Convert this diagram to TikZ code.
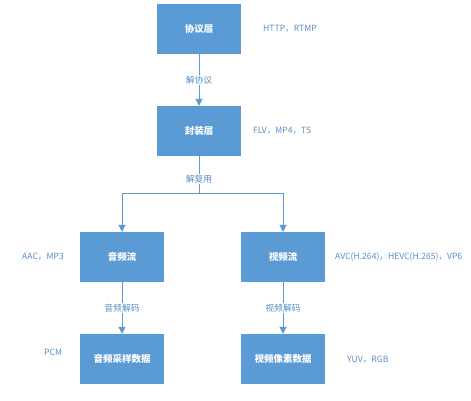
\documentclass[tikz,border=0pt]{standalone}
\usepackage{fontspec}
\setmainfont{Noto Sans CJK SC}
\usetikzlibrary{arrows.meta}
\definecolor{boxblue}{HTML}{5B9BD5}
\definecolor{lineblue}{HTML}{5B9BD5}
\definecolor{txtblue}{HTML}{5A8FC8}
\begin{document}
\begin{tikzpicture}[x=1pt,y=-1pt,
  box/.style={draw=none,fill=boxblue,minimum width=84pt,minimum height=50pt,inner sep=0pt,text=white,font=\fontsize{9.5}{11}\selectfont\bfseries},
  side/.style={text=txtblue,font=\fontsize{8.6}{10}\selectfont,inner sep=0pt},
  edge/.style={text=txtblue,font=\fontsize{8.8}{10}\selectfont,inner sep=1pt,fill=white},
  conn/.style={draw=lineblue,line width=1pt,-{Triangle[width=7pt,length=7pt]}},
  plain/.style={draw=lineblue,line width=1pt}]
\useasboundingbox (0,0) rectangle (471,400);
\fill[white] (0,0) rectangle (471,400);
\node[box] (p) at (199,29) {协议层};
\node[box] (f) at (199,131) {封装层};
\node[box] (a) at (122,257) {音频流};
\node[box] (v) at (283,257) {视频流};
\node[box] (ad) at (122,359) {音频采样数据};
\node[box] (vd) at (283,359) {视频像素数据};
\coordinate (j) at (199,193);
\coordinate (jl) at (122,193);
\coordinate (jr) at (283,193);
\draw[conn] (p) -- node[edge] {解协议} (f);
\draw[plain] (f) -- node[edge,pos=0.62] {解复用} (j);
\draw[plain] (jl) -- (jr);
\draw[conn] (jl) -- (a);
\draw[conn] (jr) -- (v);
\draw[conn] (a) -- node[edge,pos=0.5] {音频解码} (ad);
\draw[conn] (v) -- node[edge,pos=0.5] {视频解码} (vd);
\node[side,anchor=west] (t1) at (263,29) {HTTP，RTMP};
\node[side,anchor=west] (t2) at (253,131) {FLV，MP4，TS};
\node[side,anchor=west] (t3) at (22,257) {AAC，MP3};
\node[side,anchor=west] (t4) at (335,257) {AVC(H.264)，HEVC(H.265)，VP6};
\node[side,anchor=west] (t5) at (44,352) {PCM};
\node[side,anchor=west] (t6) at (347,360) {YUV，RGB};
\end{tikzpicture}
\end{document}
